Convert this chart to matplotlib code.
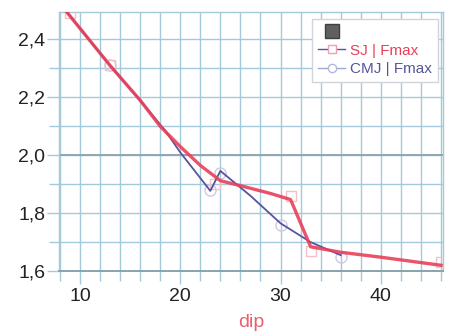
import matplotlib.pyplot as plt
import numpy as np
from matplotlib.lines import Line2D
from matplotlib.ticker import MultipleLocator, FuncFormatter

plt.rcParams["font.family"] = ["Liberation Sans", "DejaVu Sans"]

# SJ | Fmax
sj_x = [8.7, 13, 16, 18, 20, 22, 24, 26, 29, 31, 33, 36, 40, 46]
sj_y = [2.494, 2.31, 2.19, 2.10, 2.03, 1.965, 1.912, 1.895, 1.868, 1.847, 1.684, 1.665, 1.648, 1.62]
sj_mx = [9, 13, 23.5, 31, 33, 46]
sj_my = [2.49, 2.31, 1.90, 1.86, 1.67, 1.63]

# CMJ | Fmax
cmj_x = [8.7, 13, 16, 18.5, 20, 23, 24, 27, 30, 33, 36]
cmj_y = [2.494, 2.31, 2.19, 2.085, 2.01, 1.877, 1.946, 1.86, 1.765, 1.70, 1.655]
cmj_mx = [13, 23, 24, 30, 36]
cmj_my = [2.31, 1.88, 1.94, 1.76, 1.65]

red = "#e8405a"
blue = "#55559e"
grid_c = "#a3c9da"
grid_dark = "#8aa2ad"

fig = plt.figure(figsize=(4.53, 3.31), dpi=100)
ax = fig.add_axes([0.130, 0.181, 0.848, 0.783])

ax.plot(cmj_mx, cmj_my, "o", ms=8, mfc="none", mec="#d0c8e6", mew=1.0, zorder=3)
ax.plot(sj_mx, sj_my, "s", ms=7, mfc="none", mec="#f2c0c8", mew=1.0, zorder=3)
ax.plot(cmj_x, cmj_y, color=blue, lw=1.3, zorder=4)
ax.plot(sj_x, sj_y, color=red, lw=2.4, alpha=0.9, zorder=5)

ax.set_xlim(7.9, 46.2)
ax.set_ylim(1.6, 2.495)

ax.xaxis.set_major_locator(MultipleLocator(10))
ax.xaxis.set_minor_locator(MultipleLocator(2))
ax.yaxis.set_major_locator(MultipleLocator(0.2))
ax.yaxis.set_minor_locator(MultipleLocator(0.1))
ax.yaxis.set_major_formatter(FuncFormatter(lambda v, p: f"{v:.1f}".replace(".", ",")))

ax.grid(which="both", color=grid_c, lw=1.0)
ax.set_axisbelow(True)
# the 2,0 line is a bit darker (1,6 is the bottom spine)
for y in ax.get_yticks():
    if abs(y - 2.0) < 1e-6:
        ax.axhline(y, color=grid_dark, lw=1.3, zorder=1)

ax.tick_params(which="both", direction="out", color=grid_c, width=1.0)
ax.tick_params(which="major", length=9, labelsize=14, labelcolor="#222222")
ax.tick_params(which="minor", length=7)
ax.tick_params(axis="x", which="major", pad=3)
ax.tick_params(axis="y", which="major", pad=1)
for s in ax.spines.values():
    s.set_color(grid_c)
    s.set_linewidth(1.0)
ax.spines["bottom"].set_color(grid_dark)
ax.spines["bottom"].set_linewidth(1.4)

ax.set_xlabel("dip", color="#e86070", fontsize=14, labelpad=7)

handles = [
    Line2D([], [], marker="s", color="#606060", mec="#404040", ms=10, ls="none"),
    Line2D([], [], color=blue, lw=1, marker="s", ms=6, mfc="white", mec="#f0a0b0"),
    Line2D([], [], color="#a0a8d0", lw=1, marker="o", ms=6, mfc="white", mec="#b0b8e0"),
]
leg = ax.legend(handles, [" ", "SJ | Fmax", "CMJ | Fmax"], loc="upper right",
                bbox_to_anchor=(0.987, 0.973), borderaxespad=0, fontsize=11,
                fancybox=False, edgecolor="#d0d4dc", framealpha=1, handlelength=1.8,
                handletextpad=0.3, borderpad=0.4, labelspacing=0.3)
leg.get_texts()[1].set_color(red)
leg.get_texts()[2].set_color(blue)

fig.savefig("out.png", dpi=100)
